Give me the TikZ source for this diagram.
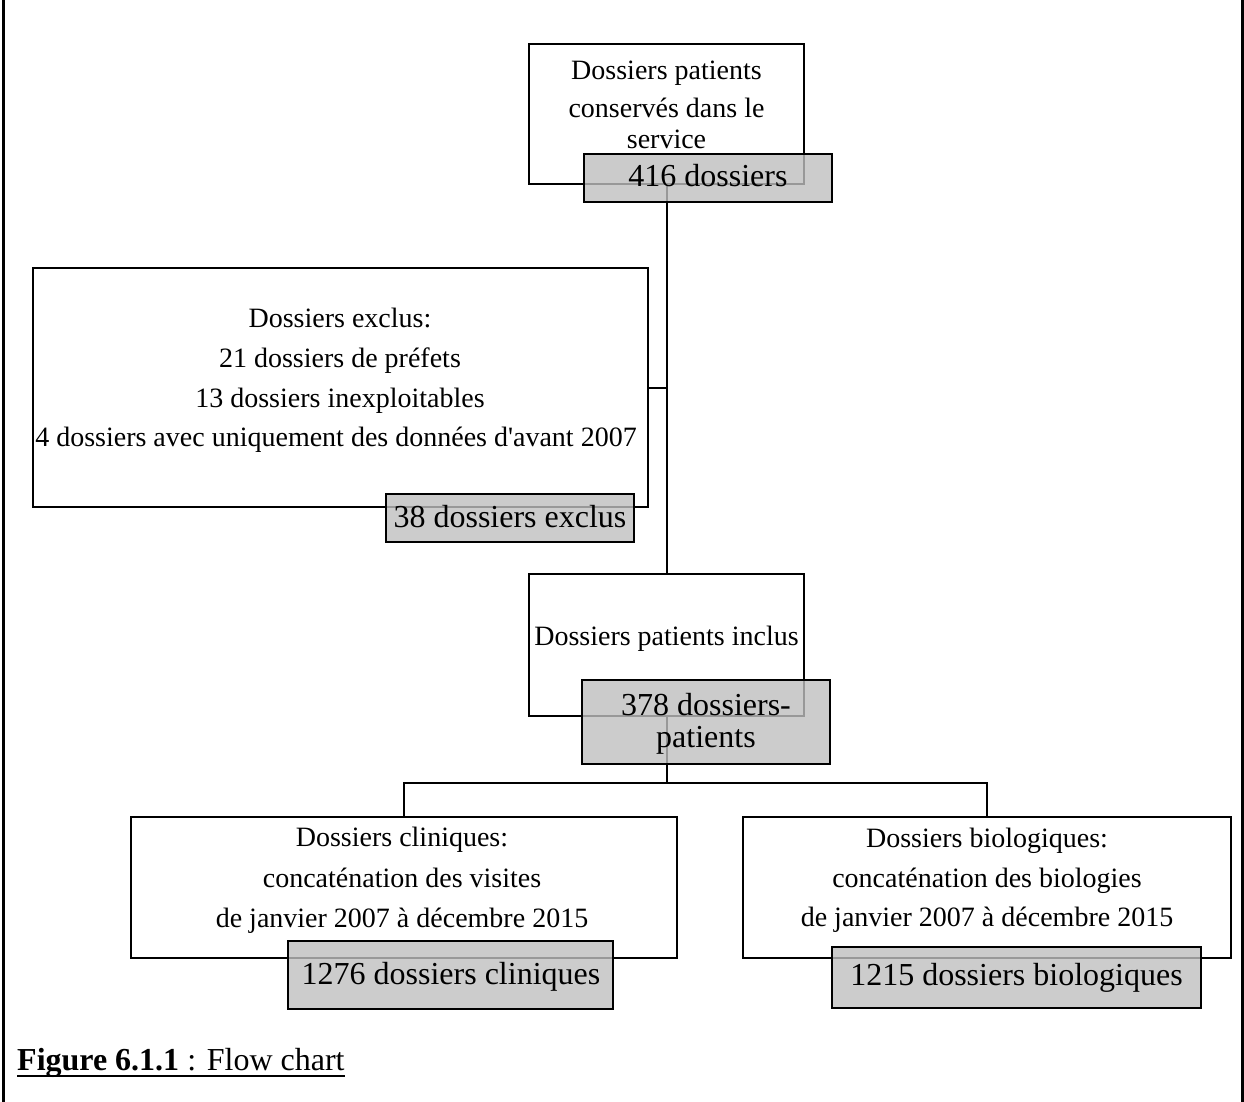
\documentclass[tikz,border=0pt]{standalone}
\usepackage{fontspec}
\setmainfont{Liberation Serif}[Ligatures=TeXOff]
\usetikzlibrary{backgrounds}
\begin{document}
\begin{tikzpicture}[x=1pt,y=-1pt]
\tikzset{
 wbox/.style={draw=black, line width=2pt, fill=white, inner sep=0pt, outer sep=0pt},
 gbox/.style={draw=black, line width=2pt, fill=black!25, fill opacity=0.8, draw opacity=1, inner sep=0pt, outer sep=0pt},
 wtext/.style={anchor=base, inner sep=0pt, font=\fontsize{28}{40}\selectfont},
 gtext/.style={anchor=base, inner sep=0pt, font=\fontsize{32}{38}\selectfont},
 link/.style={line width=2pt},
 frameline/.style={line width=2.4pt}
}
\useasboundingbox (0,0) rectangle (1244,1102);

% outer frame (left and right sides only)
\draw[frameline] (3.5,0) -- (3.5,1102);
\draw[frameline] (1242.5,0) -- (1242.5,1102);

% white boxes
\node[wbox, minimum width=275pt, minimum height=140pt] (top) at (666.5,114) {};
\node[wbox, minimum width=615pt, minimum height=239pt] (excl) at (340.5,387.5) {};
\node[wbox, minimum width=275pt, minimum height=142pt] (incl) at (666.5,645) {};
\node[wbox, minimum width=546pt, minimum height=141pt] (clin) at (404,887.5) {};
\node[wbox, minimum width=488pt, minimum height=141pt] (bio) at (987,887.5) {};

% grey boxes
\node[gbox, minimum width=248pt, minimum height=48pt] (gtop) at (708,178) {};
\node[gbox, minimum width=248pt, minimum height=48pt] (gexcl) at (510,518) {};
\node[gbox, minimum width=248pt, minimum height=84pt] (gincl) at (706,722) {};
\node[gbox, minimum width=325pt, minimum height=68pt] (gclin) at (450.5,975) {};
\node[gbox, minimum width=369pt, minimum height=61pt] (gbio) at (1016.5,977.5) {};

% connectors (under the boxes)
\coordinate (split) at (666.5,783);
\begin{scope}[on background layer]
\draw[link] (top.south) -- (incl.north);
\draw[link] (excl.east) -- (excl.east -| top.south);
\draw[link] (incl.south) -- (split);
\draw[link] (clin.north) |- (split) -| (bio.north);
\end{scope}

% texts
\node[wtext] (t1) at (666.5,80) {Dossiers patients};
\node[wtext] (t2) at (666.5,118) {conservés dans le};
\node[wtext] (t3) at (666.5,149) {service};
\node[gtext] (g1) at (708,187) {416 dossiers};

\node[wtext] (e1) at (340,327) {Dossiers exclus:};
\node[wtext] (e2) at (340,367) {21 dossiers de préfets};
\node[wtext] (e3) at (340,407) {13 dossiers inexploitables};
\node[wtext] (e4) at (336,446) {4 dossiers avec uniquement des données d'avant 2007};
\node[gtext] (g2) at (510,527) {38 dossiers exclus};

\node[wtext] (i1) at (666.5,645) {Dossiers patients inclus};
\node[gtext] (g3a) at (706,715) {378 dossiers-};
\node[gtext] (g3b) at (706,747) {patients};

\node[wtext] (c1) at (402,846) {Dossiers cliniques:};
\node[wtext] (c2) at (402,887) {concaténation des visites};
\node[wtext] (c3) at (402,927) {de janvier 2007 à décembre 2015};
\node[gtext] (g4) at (451,984) {1276 dossiers cliniques};

\node[wtext] (b1) at (987,847) {Dossiers biologiques:};
\node[wtext] (b2) at (987,887) {concaténation des biologies};
\node[wtext] (b3) at (987,926) {de janvier 2007 à décembre 2015};
\node[gtext] (g5) at (1016.5,985) {1215 dossiers biologiques};

% caption
\node[anchor=base west, inner sep=0pt, font=\fontsize{32}{38}\selectfont] (cap) at (17,1070) {\textbf{Figure 6.1.1} : Flow chart};
\draw[line width=2.2pt] ([yshift=-6pt]cap.base west) -- ([yshift=-6pt]cap.base east);
\end{tikzpicture}
\end{document}
